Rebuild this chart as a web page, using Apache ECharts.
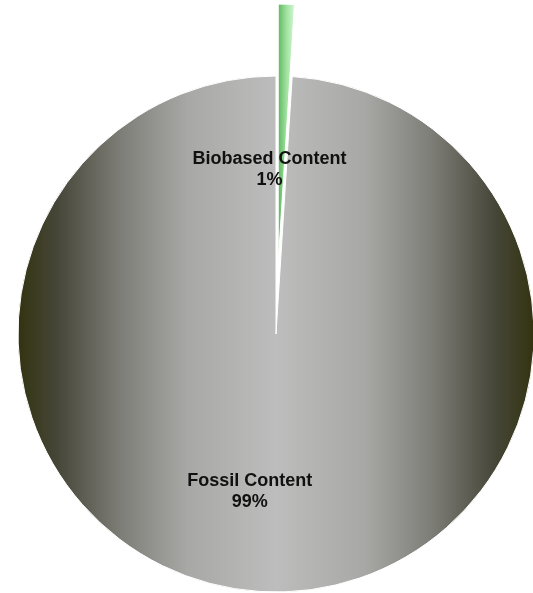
<!DOCTYPE html>
<html>
<head>
<meta charset="utf-8">
<script src="https://cdn.jsdelivr.net/npm/echarts@6/dist/echarts.min.js"></script>
<style>
  html, body { margin: 0; padding: 0; background: #fff; }
  #chart { width: 533px; height: 593px; }
</style>
</head>
<body>
<div id="chart"></div>
<script>
var names = ['Biobased Content', 'Fossil Content'];
var values = [1, 99];

(function () {
    var myChart = echarts.init(document.getElementById('chart'));

    var greenFill = new echarts.graphic.LinearGradient(0, 0, 1, 0, [
        { offset: 0, color: '#5db55d' },
        { offset: 0.5, color: '#9fe29f' },
        { offset: 1, color: '#d4f8d4' }
    ]);
    var grayFill = new echarts.graphic.LinearGradient(0, 0, 1, 0, [
        { offset: 0, color: '#333311' },
        { offset: 0.08, color: '#47473a' },
        { offset: 0.2, color: '#7e7e78' },
        { offset: 0.33, color: '#a8a8a6' },
        { offset: 0.5, color: '#bdbdbd' },
        { offset: 0.67, color: '#a8a8a6' },
        { offset: 0.8, color: '#7e7e78' },
        { offset: 0.92, color: '#47473a' },
        { offset: 1, color: '#333311' }
    ]);
    var fills = [greenFill, grayFill];
    // nudge the inside labels to where the original puts them
    var labelShift = [[-13, 39], [-22, 26]];

    var option = {
        animation: false,
        series: [
            {
                type: 'pie',
                center: [276, 334],
                radius: 258,
                startAngle: 90,
                clockwise: true,
                selectedMode: 'single',
                selectedOffset: 72,
                itemStyle: {
                    borderColor: '#ffffff',
                    borderWidth: 1
                },
                label: {
                    position: 'inside',
                    formatter: '{b}\n{d}%',
                    color: '#111',
                    fontFamily: 'Liberation Sans, Arial, sans-serif',
                    fontSize: 18,
                    fontWeight: 'bold',
                    lineHeight: 21
                },
                labelLayout: function (p) {
                    return { dx: labelShift[p.dataIndex][0], dy: labelShift[p.dataIndex][1] };
                },
                labelLine: { show: false },
                data: names.map(function (n, i) {
                    return {
                        name: n,
                        value: values[i],
                        selected: i === 0,
                        itemStyle: { color: fills[i] }
                    };
                })
            }
        ]
    };

    myChart.setOption(option);
    window.addEventListener('resize', function () {
        myChart.resize();
    });
})();
</script>
</body>
</html>
